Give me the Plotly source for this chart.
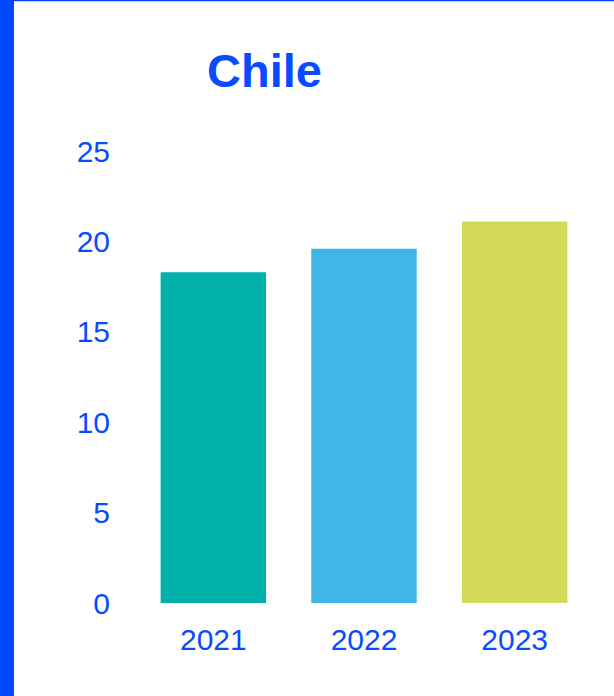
import plotly.graph_objects as go

years = ["2021", "2022", "2023"]
values = [18.3, 19.6, 21.1]
bar_colors = ["#00B2A9", "#41B6E6", "#D3D958"]
y_ticks = [0, 5, 10, 15, 20, 25]
title_text = "Chile"

BLUE = "#0047FF"
TEXT_BLUE = "#0A4BFF"

W, H = 614, 696
L, R, T, B = 138, 24, 151, 93
pw = W - L - R
ph = H - T - B

fig = go.Figure(go.Bar(x=years, y=values, marker=dict(color=bar_colors, line=dict(width=0)),
                       hoverinfo="x+y"))

fig.update_layout(
    width=W, height=H,
    margin=dict(l=L, r=R, t=T, b=B, pad=0),
    paper_bgcolor="white", plot_bgcolor="white",
    bargap=0.30,
    showlegend=False,
    font=dict(family="Arial, Liberation Sans, sans-serif", color=TEXT_BLUE),
    title=dict(text="<b>" + title_text + "</b>", font=dict(size=47, color=TEXT_BLUE),
               xref="container", x=207 / W, xanchor="left",
               yref="container", y=1 - 71 / H, yanchor="middle"),
    xaxis=dict(showgrid=False, showline=False, zeroline=False, ticks="",
               tickfont=dict(size=30, color=TEXT_BLUE), ticklabelstandoff=16),
    yaxis=dict(range=[0, 25], tickvals=y_ticks, showgrid=False, showline=False, zeroline=False,
               ticks="", tickfont=dict(size=30, color=TEXT_BLUE), ticklabelstandoff=27),
    shapes=[
        dict(type="rect", xref="paper", yref="paper",
             x0=(0 - L) / pw, x1=(14 - L) / pw, y0=-B / ph, y1=1 + T / ph,
             fillcolor=BLUE, line=dict(width=0), layer="above"),
        dict(type="rect", xref="paper", yref="paper",
             x0=(0 - L) / pw, x1=(W - L) / pw, y0=1 + (T - 1.2) / ph, y1=1 + T / ph,
             fillcolor=BLUE, line=dict(width=0), layer="above"),
    ],
)

fig.write_html("out.html",
               config={"displayModeBar": False},
               post_script="document.body.style.margin='0';document.body.style.overflow='hidden';")
